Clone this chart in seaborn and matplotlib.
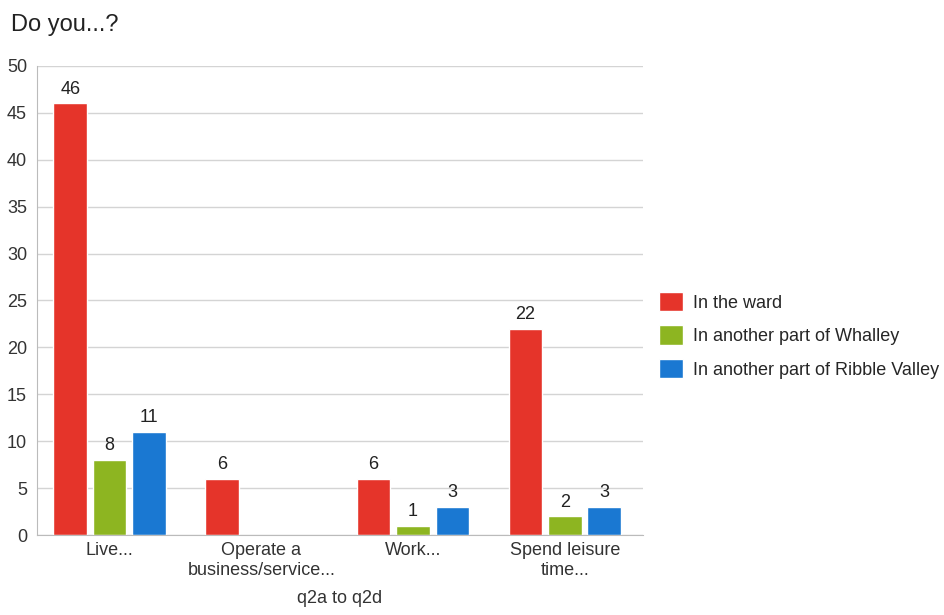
import pandas as pd
import numpy as np
import seaborn as sns
import matplotlib.pyplot as plt

categories = ["Live...", "Operate a\nbusiness/service...", "Work...", "Spend leisure\ntime..."]
series_names = ["In the ward", "In another part of Whalley", "In another part of Ribble Valley"]
in_ward = [46, 6, 6, 22]
in_whalley = [8, np.nan, 1, 2]
in_ribble = [11, np.nan, 3, 3]
colours = ["#e5342a", "#8db521", "#1a78d2"]

def build_frame():
    rows = []
    for name, vals in zip(series_names, [in_ward, in_whalley, in_ribble]):
        for cat, v in zip(categories, vals):
            rows.append({"category": cat, "series": name, "value": v})
    return pd.DataFrame(rows)

def main():
    sns.set_style("white")
    plt.rcParams['font.family'] = ['Liberation Sans', 'DejaVu Sans']
    df = build_frame()

    fig = plt.figure(figsize=(9.44, 6.15), dpi=100)
    ax = fig.add_axes([0.039, 0.130, 0.642, 0.763])

    sns.barplot(data=df, x="category", y="value", hue="series", palette=colours,
                width=0.78, gap=0.15, ax=ax, saturation=1, legend=True)

    for cont in ax.containers:
        labels = ["" if np.isnan(v) else f"{v:g}" for v in cont.datavalues]
        ax.bar_label(cont, labels=labels, padding=4, fontsize=13, color="#222222")

    ax.set_ylim(0, 50)
    ax.set_xlim(-0.48, 3.515)
    ax.set_yticks(range(0, 51, 5))
    ax.yaxis.grid(True, color="#d4d4d4", linewidth=1)
    ax.set_axisbelow(True)
    for side in ["top", "right"]:
        ax.spines[side].set_visible(False)
    ax.spines["left"].set_color("#bbbbbb")
    ax.spines["bottom"].set_color("#bbbbbb")
    ax.tick_params(axis="y", labelsize=13, colors="#333333", length=0, pad=7)
    ax.tick_params(axis="x", labelsize=13, colors="#333333", length=0, pad=5)
    ax.set_ylabel("")
    ax.set_xlabel("q2a to q2d", fontsize=13, color="#333333", labelpad=8)

    ax.legend(loc="center left", bbox_to_anchor=(1.0, 0.426), frameon=False,
              fontsize=13, handlelength=1.3, handleheight=1.3, labelspacing=0.75,
              handletextpad=0.6)

    fig.text(0.012, 0.95, "Do you...?", fontsize=17, color="#222222")
    fig.savefig("out.png", dpi=100)

if __name__ == "__main__":
    main()
